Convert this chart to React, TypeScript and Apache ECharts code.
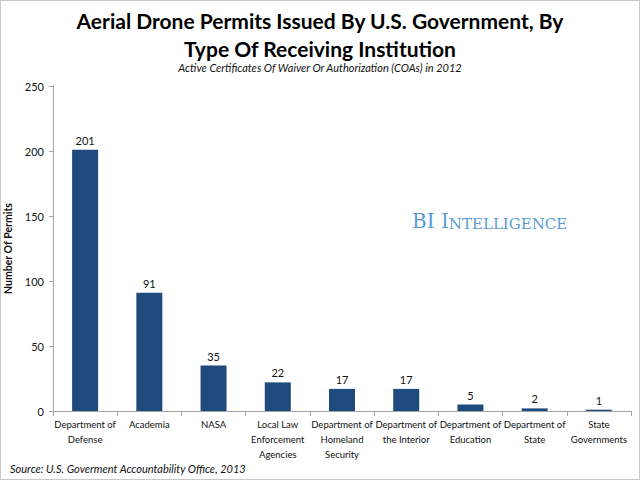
import React, { useEffect, useRef } from "react";
import * as echarts from "echarts";

const categories = [
  "Department of\nDefense",
  "Academia",
  "NASA",
  "Local Law\nEnforcement\nAgencies",
  "Department of\nHomeland\nSecurity",
  "Department of\nthe Interior",
  "Department of\nEducation",
  "Department of\nState",
  "State\nGovernments",
];
const permits = [201, 91, 35, 22, 17, 17, 5, 2, 1];
const yTicks = { min: 0, max: 250, interval: 50 };

const FONT = "Lato";

export default function App() {
  const ref = useRef<HTMLDivElement>(null);
  useEffect(() => {
    if (!ref.current) return;
    const chart = echarts.init(ref.current, null, { renderer: "svg" });
    chart.setOption({
      animation: false,
      backgroundColor: "#ffffff",
      title: [
        {
          text: "Aerial Drone Permits Issued By U.S. Government, By\nType Of Receiving Institution",
          left: "center",
          top: 0,
          textStyle: {
            fontFamily: FONT,
            fontWeight: "bold",
            fontSize: 21,
            lineHeight: 28,
            color: "#000",
          },
        },
        {
          text: "Active Certificates Of Waiver Or Authorization (COAs) in 2012",
          left: "center",
          top: 56,
          textStyle: {
            fontFamily: FONT,
            fontStyle: "italic",
            fontWeight: "normal",
            fontSize: 11,
            color: "#111",
          },
        },
        {
          text: "Source: U.S. Goverment Accountability Office, 2013",
          left: 4,
          top: 457,
          textStyle: {
            fontFamily: FONT,
            fontStyle: "italic",
            fontWeight: "normal",
            fontSize: 11,
            color: "#111",
          },
        },
      ],
      graphic: [
        {
          type: "text",
          left: 411,
          top: 210,
          style: {
            text: "{a|BI I}{b|NTELLIGENCE}",
            rich: {
              a: { fontFamily: "DejaVu Serif", fontSize: 20, fill: "#5b9bd5", verticalAlign: "bottom" },
              b: { fontFamily: "DejaVu Serif", fontSize: 15, fill: "#5b9bd5", verticalAlign: "bottom" },
            },
          },
        },
      ],
      grid: { left: 52, right: 8, top: 85, bottom: 68, containLabel: false, outerBoundsMode: "none" },
      xAxis: {
        type: "category",
        data: categories,
        axisLine: { lineStyle: { color: "#a6a6a6" } },
        axisTick: { show: true, alignWithLabel: false, length: 5, lineStyle: { color: "#a6a6a6" } },
        axisLabel: {
          interval: 0,
          fontFamily: FONT,
          fontSize: 9.5,
          lineHeight: 15,
          color: "#111",
          margin: 6,
        },
      },
      yAxis: {
        type: "value",
        min: yTicks.min,
        max: yTicks.max,
        interval: yTicks.interval,
        name: "Number Of Permits",
        nameLocation: "middle",
        nameGap: 36,
        nameTextStyle: { fontFamily: FONT, fontWeight: "bold", fontSize: 10.5, color: "#111" },
        axisLine: { show: true, lineStyle: { color: "#a6a6a6" } },
        axisTick: { show: true, length: 4, lineStyle: { color: "#a6a6a6" } },
        splitLine: { show: false },
        axisLabel: { fontFamily: FONT, fontSize: 11, color: "#111", margin: 9 },
      },
      series: [
        {
          type: "bar",
          data: permits,
          barWidth: 26,
          itemStyle: { color: "#1f4a7d" },
          label: {
            show: true,
            position: "top",
            distance: 4,
            fontFamily: FONT,
            fontSize: 11,
            color: "#111",
          },
        },
      ],
    });
    return () => chart.dispose();
  }, []);
  return (
    <div
      ref={ref}
      style={{
        position: "fixed",
        left: 0,
        top: 0,
        width: 640,
        height: 480,
        boxSizing: "border-box",
        border: "1px solid #c8c8c8",
      }}
    />
  );
}
